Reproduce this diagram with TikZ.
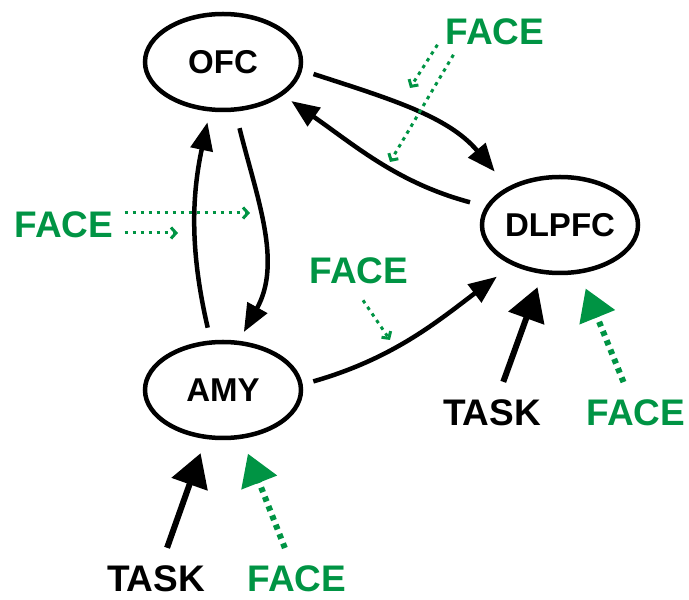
\documentclass[tikz,border=0pt]{standalone}
\usepackage{fontspec}
\setmainfont{Liberation Sans}
\usetikzlibrary{shapes.geometric,arrows.meta}
\definecolor{vertface}{RGB}{0,148,68}
\tikzset{
  aire/.style={ellipse,draw,line width=4.5pt,minimum width=156pt,minimum height=96pt,
    inner xsep=-8pt,inner ysep=0pt,font=\fontsize{33}{36}\selectfont\bfseries},
  etiq/.style={inner sep=0pt,font=\fontsize{37}{40}\selectfont\bfseries},
  lien/.style={line width=4.5pt,-{Triangle[length=28pt,width=22pt]}},
  entree/.style={line width=6pt,-{Triangle[length=33pt,width=37pt]}},
  visage/.style={vertface,line width=6pt,dash pattern=on 5pt off 5pt,-{Triangle[length=31pt,width=37pt]}},
  modul/.style={vertface,line width=3pt,dash pattern=on 3.5pt off 4.5pt,-{Straight Barb[length=5pt,width=11pt]}}
}
\begin{document}
\begin{tikzpicture}[x=1pt,y=1pt]
\useasboundingbox (0,0) rectangle (689,600);

% Les trois aires
\node[aire] (ofc) at (223,538) {OFC};
\node[aire] (dlpfc) at (560,375) {DLPFC};
\node[aire] (amy) at (223,210) {AMY};

% Etiquettes
\node[etiq,vertface] (faceHaut) at (495,568.5) {FACE};
\node[etiq,vertface] (faceGauche) at (64,375) {FACE};
\node[etiq,vertface] (faceMilieu) at (359,329) {FACE};
\node[etiq] (tacheD) at (492,187) {TASK};
\node[etiq,vertface] (faceD) at (636,187) {FACE};
\node[etiq] (tacheB) at (156,21) {TASK};
\node[etiq,vertface] (faceB) at (297,21) {FACE};

% Connexions entre aires
\draw[lien,shorten <=12pt,shorten >=20pt] (ofc.-6) to[out=-18,in=130] (dlpfc.144);
\draw[lien,shorten <=16pt,shorten >=10pt] (dlpfc.166) to[out=165,in=-35] (ofc.-29);
\draw[lien,shorten <=17pt,shorten >=10pt] (ofc.-76) to[out=-76,in=61] (amy.72);
\draw[lien,shorten <=13pt,shorten >=11pt] (amy.104) to[out=103,in=-102] (ofc.-105);
\draw[lien,shorten <=11pt,shorten >=19pt] (amy.4) to[out=16,in=-143] (dlpfc.-140);

% Entrees tache / visage
\draw[entree,shorten <=19pt,shorten >=14pt] (tacheD) -- (dlpfc);
\draw[visage,shorten <=19pt,shorten >=16pt] (faceD) -- (dlpfc);
\draw[entree,shorten <=19pt,shorten >=15pt] (tacheB) -- (amy);
\draw[visage,shorten <=19pt,shorten >=16pt] (faceB) -- (amy);

% Modulation par le visage (pointilles)
\coordinate (pointeHaut1) at (410,512);
\coordinate (pointeHaut2) at (390,438);
\coordinate (pointeGauche1) at (250,387);
\coordinate (pointeGauche2) at (178,367);
\coordinate (pointeMilieu) at (390,260);
\draw[modul] ([xshift=-8pt]faceHaut.south west) -- (pointeHaut1);
\draw[modul] ([xshift=8pt,yshift=-10pt]faceHaut.south west) -- (pointeHaut2);
\draw[modul] ([xshift=11pt,yshift=12pt]faceGauche.east) -- (pointeGauche1);
\draw[modul] ([xshift=11pt,yshift=-8pt]faceGauche.east) -- (pointeGauche2);
\draw[modul] ([xshift=4pt,yshift=-16pt]faceMilieu.south) -- (pointeMilieu);

\end{tikzpicture}
\end{document}
